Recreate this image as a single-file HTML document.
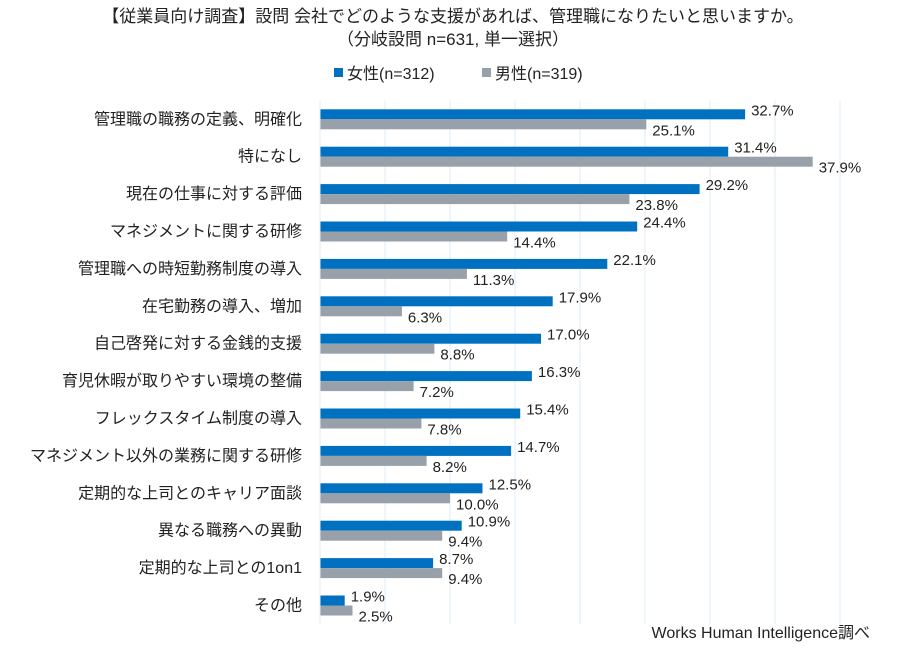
<!DOCTYPE html>
<html><head><meta charset="utf-8"><style>
body{margin:0;background:#fff;font-family:"Liberation Sans","Noto Sans CJK JP",sans-serif;}
svg text{font-family:"Liberation Sans","Noto Sans CJK JP",sans-serif;}
</style></head><body>
<svg id="c" width="907" height="653" xmlns="http://www.w3.org/2000/svg">
<text x="453" y="22" text-anchor="middle" font-size="17" fill="#222">【従業員向け調査】設問 会社でどのような支援があれば、管理職になりたいと思いますか。</text>
<text x="453" y="45" text-anchor="middle" font-size="17" fill="#222">（分岐設問 n=631, 単一選択）</text>
<g>
<rect x="334" y="68" width="9" height="9" fill="#0070C0"/>
<text x="347" y="79" font-size="16" fill="#222">女性(n=312)</text>
<rect x="482" y="68" width="9" height="9" fill="#98A1A9"/>
<text x="495" y="79" font-size="16" fill="#222">男性(n=319)</text>
</g>
<g id="plot"></g>
<text x="870" y="638" text-anchor="end" font-size="16" fill="#222">Works Human Intelligence調べ</text>
</svg>
<script>
const categories=["管理職の職務の定義、明確化","特になし","現在の仕事に対する評価","マネジメントに関する研修","管理職への時短勤務制度の導入","在宅勤務の導入、増加","自己啓発に対する金銭的支援","育児休暇が取りやすい環境の整備","フレックスタイム制度の導入","マネジメント以外の業務に関する研修","定期的な上司とのキャリア面談","異なる職務への異動","定期的な上司との1on1","その他"];
const female=[32.7,31.4,29.2,24.4,22.1,17.9,17.0,16.3,15.4,14.7,12.5,10.9,8.7,1.9];
const male=[25.1,37.9,23.8,14.4,11.3,6.3,8.8,7.2,7.8,8.2,10.0,9.4,9.4,2.5];
const gridTicks=[5,10,15,20,25,30,35,40];
const NS="http://www.w3.org/2000/svg";
const plotG=document.getElementById('plot');
const x0=320,pxPer=13,plotTop=100.6,rowH=37.4,barH=10;
const X=v=>x0+v*pxPer;
const Y=i=>plotTop+i*rowH+rowH/2;
function mk(t,a){const e=document.createElementNS(NS,t);for(const k in a)e.setAttribute(k,a[k]);plotG.appendChild(e);return e;}
gridTicks.forEach(t=>{
const l=mk('line',{x1:X(t),x2:X(t),y1:plotTop,y2:plotTop+rowH*categories.length,stroke:'#DDEBF7','stroke-width':1});


});
categories.forEach((c,i)=>{
const cy=Y(i);
const lab=mk('text',{x:302,y:cy+5,'text-anchor':'end','font-size':16,fill:'#222'});
lab.textContent=c;


const bf=mk('rect',{x:x0,y:cy-barH,width:X(female[i])-x0,height:barH,fill:'#0070C0'});


const bm=mk('rect',{x:x0,y:cy,width:X(male[i])-x0,height:barH,fill:'#98A1A9'});


const tf=mk('text',{x:X(female[i])+6,y:cy-4,'font-size':15,fill:'#222'});
tf.textContent=female[i].toFixed(1)+'%';


const tm=mk('text',{x:X(male[i])+6,y:cy+16,'font-size':15,fill:'#222'});
tm.textContent=male[i].toFixed(1)+'%';


});
const ax=mk('line',{x1:x0,x2:x0,y1:plotTop,y2:plotTop+rowH*categories.length,stroke:'#DDEBF7','stroke-width':1});


</script>
</body></html>
